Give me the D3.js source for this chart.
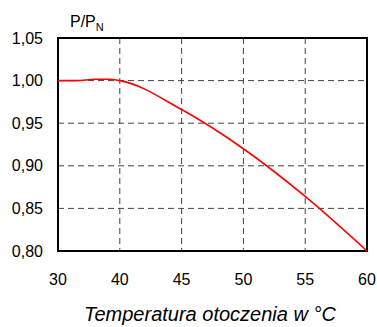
<!DOCTYPE html>
<html>
<head>
<meta charset="utf-8">
<script src="https://cdn.jsdelivr.net/npm/d3@7"></script>
<style>
  body { margin: 0; background: #fff; }
  svg text { font-family: "Liberation Sans", Arial, sans-serif; fill: #000; }
</style>
</head>
<body>
<svg id="chart"></svg>
<script>
// Derating curve P/PN vs ambient temperature

var xTicks = [30, 40, 45, 50, 55, 60];
var yTicks = [0.80, 0.85, 0.90, 0.95, 1.00, 1.05];

// curve
var temps  = [30, 33, 36, 38, 40, 45, 50, 55, 60];
var ratios = [1.000, 1.000, 1.0015, 1.0015, 1.000, 0.966, 0.920, 0.864, 0.800];

var width = 377,
    height = 327,
    m = { left: 58, right: 10, top: 38, bottom: 76 };

var svg = d3.select('#chart')
  .attr('width', width)
  .attr('height', height);

var plotW = width - m.left - m.right,
    plotH = height - m.top - m.bottom;

// tick labels are equally spaced, so the x scale is piecewise
var x = d3.scaleLinear()
  .domain(xTicks)
  .range(xTicks.map(function (d, i) { return m.left + i * plotW / (xTicks.length - 1); }));

var y = d3.scaleLinear()
  .domain([0.80, 1.05])
  .range([m.top + plotH, m.top]);

var fmt = function (d) { return d3.format('.2f')(d).replace('.', ','); };

// grid
svg.append('g')
  .selectAll('line')
  .data(xTicks.slice(1, -1))
  .enter().append('line')
    .attr('x1', function (d) { return x(d); })
    .attr('x2', function (d) { return x(d); })
    .attr('y1', m.top)
    .attr('y2', m.top + plotH)
    .attr('stroke', '#444')
    .attr('stroke-width', 1)
    .attr('stroke-dasharray', '6,4');

svg.append('g')
  .selectAll('line')
  .data(yTicks.slice(1, -1))
  .enter().append('line')
    .attr('x1', m.left)
    .attr('x2', m.left + plotW)
    .attr('y1', function (d) { return y(d); })
    .attr('y2', function (d) { return y(d); })
    .attr('stroke', '#444')
    .attr('stroke-width', 1)
    .attr('stroke-dasharray', '6,4');

// frame
svg.append('rect')
  .attr('x', m.left)
  .attr('y', m.top)
  .attr('width', plotW)
  .attr('height', plotH)
  .attr('fill', 'none')
  .attr('stroke', '#000')
  .attr('stroke-width', 2);

// curve
var line = d3.line()
  .x(function (d, i) { return x(temps[i]); })
  .y(function (d) { return y(d); })
  .curve(d3.curveMonotoneX);

svg.append('path')
  .datum(ratios)
  .attr('d', line)
  .attr('fill', 'none')
  .attr('stroke', '#ff0000')
  .attr('stroke-width', 1.6);

// tick labels
svg.append('g')
  .selectAll('text')
  .data(yTicks)
  .enter().append('text')
    .attr('x', m.left - 15)
    .attr('y', function (d) { return y(d) + 5.5; })
    .attr('text-anchor', 'end')
    .attr('font-size', 16)
    .text(fmt);

svg.append('g')
  .selectAll('text')
  .data(xTicks)
  .enter().append('text')
    .attr('x', function (d) { return x(d); })
    .attr('y', m.top + plotH + 34)
    .attr('text-anchor', 'middle')
    .attr('font-size', 16)
    .text(function (d) { return d; });

// titles
var yt = svg.append('text')
  .attr('x', 70)
  .attr('y', 27)
  .attr('font-size', 16);
yt.append('tspan').text('P/P');
yt.append('tspan').attr('font-size', 11).attr('dy', 4).text('N');

svg.append('text')
  .attr('x', 210)
  .attr('y', 321)
  .attr('text-anchor', 'middle')
  .attr('font-size', 20)
  .attr('font-style', 'italic')
  .text('Temperatura otoczenia w \u00B0C');
</script>
</body>
</html>
